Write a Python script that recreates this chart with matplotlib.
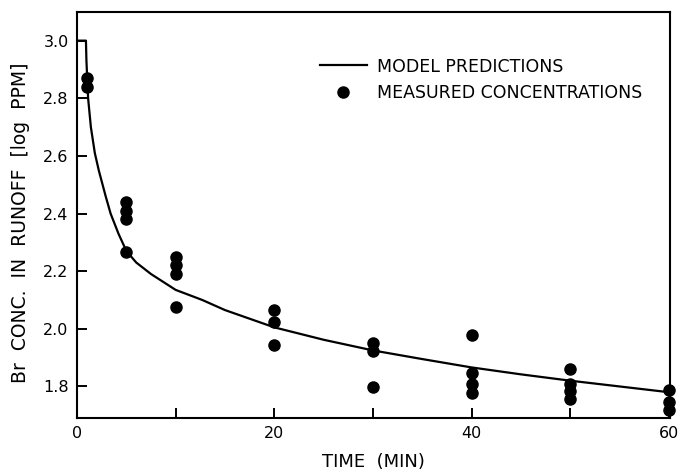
import matplotlib
matplotlib.use("Agg")
import matplotlib.pyplot as plt

# model curve
modelTime = [0, 0.9, 0.95, 1.12, 1.4, 1.8, 2.2, 2.9, 3.4, 4.2, 5, 6, 7.5, 10,
             12.7, 15, 20, 25, 30, 35, 40, 45, 50, 55, 60]
modelConc = [3.0, 3.0, 2.93, 2.80, 2.70, 2.61, 2.55, 2.46, 2.40, 2.33, 2.27, 2.23, 2.19, 2.135,
             2.10, 2.065, 2.005, 1.962, 1.925, 1.895, 1.866, 1.842, 1.82, 1.80, 1.78]

# measured concentrations
measTime = [1, 1,
            5, 5, 5, 5,
            10, 10, 10, 10,
            20, 20, 20,
            30, 30, 30,
            40, 40, 40, 40,
            50, 50, 50, 50,
            60, 60, 60]
measConc = [2.87, 2.84,
            2.44, 2.41, 2.38, 2.265,
            2.25, 2.22, 2.19, 2.076,
            2.064, 2.024, 1.944,
            1.951, 1.922, 1.798,
            1.977, 1.847, 1.81, 1.776,
            1.862, 1.81, 1.783, 1.756,
            1.787, 1.746, 1.717]

xTicks = [0, 10, 20, 30, 40, 50, 60]
xTickLabels = ["0", "", "20", "", "40", "", "60"]
yTicks = [1.8, 2.0, 2.2, 2.4, 2.6, 2.8, 3.0]

plt.rcParams["font.family"] = ["DejaVu Sans"]

fig = plt.figure(figsize=(6.82, 4.73), dpi=100)
ax = fig.add_axes([0.113, 0.116, 0.869, 0.859])

ax.plot(modelTime, modelConc, color="black", lw=1.6, label="MODEL PREDICTIONS")
ax.plot(measTime, measConc, "o", color="black", ms=8, clip_on=False,
        label="MEASURED CONCENTRATIONS")

ax.set_xlim(0, 60.1)
ax.set_ylim(1.69, 3.1)
ax.set_xticks(xTicks)
ax.set_xticklabels(xTickLabels)
ax.set_yticks(yTicks)
ax.set_yticklabels([f"{v:.1f}" for v in yTicks])
ax.tick_params(direction="in", length=7, width=1.4, labelsize=11.5, pad=6)

for sp in ax.spines.values():
    sp.set_linewidth(1.5)

ax.set_xlabel("TIME  (MIN)", fontsize=13)
ax.xaxis.set_label_coords(0.5, -0.085)
ax.set_ylabel("Br  CONC.  IN  RUNOFF  [log  PPM]", fontsize=13.5)
ax.yaxis.set_label_coords(-0.08, 0.48)

ax.legend(loc="upper left", bbox_to_anchor=(0.383, 0.926), frameon=False,
          fontsize=12.5, handlelength=2.7, handletextpad=0.6, labelspacing=0.5)

fig.savefig("out.png", dpi=100)
